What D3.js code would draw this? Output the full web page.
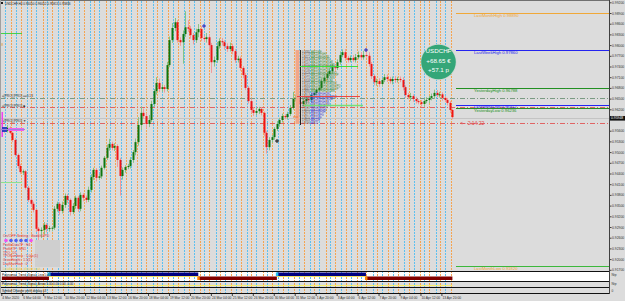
<!DOCTYPE html>
<html>
<head>
<meta charset="utf-8">
<script src="https://cdn.jsdelivr.net/npm/d3@7"></script>
<style>
  html, body { margin: 0; padding: 0; background: #dcdcdc; }
  svg { display: block; font-family: "Liberation Sans", Arial, sans-serif; }
</style>
</head>
<body>
<svg id="chart" width="625" height="301"></svg>
<script>
// ---- data ----
const firstOpen = 0.9565;
const closes = [
  0.9562, 0.9560, 0.9568, 0.9554, 0.9534, 0.9492, 0.9461, 0.9444, 0.9446, 0.9400,
  0.9366, 0.9355, 0.9338, 0.9285, 0.9279, 0.9282, 0.9296, 0.9285, 0.9287, 0.9288,
  0.9341, 0.9355, 0.9335, 0.9352, 0.9377, 0.9366, 0.9332, 0.9349, 0.9372, 0.9341,
  0.9380, 0.9372, 0.9366, 0.9394, 0.9430, 0.9450, 0.9428, 0.9432, 0.9456, 0.9484,
  0.9512, 0.9523, 0.9512, 0.9517, 0.9478, 0.9433, 0.9450, 0.9458, 0.9461, 0.9478,
  0.9500, 0.9528, 0.9576, 0.9610, 0.9601, 0.9579, 0.9590, 0.9635, 0.9671, 0.9694,
  0.9677, 0.9682, 0.9677, 0.9744, 0.9814, 0.9848, 0.9864, 0.9814, 0.9808, 0.9831,
  0.9850, 0.9846, 0.9828, 0.9814, 0.9836, 0.9845, 0.9820, 0.9817, 0.9822, 0.9800,
  0.9752, 0.9758, 0.9797, 0.9811, 0.9808, 0.9797, 0.9789, 0.9797, 0.9783, 0.9758,
  0.9762, 0.9736, 0.9716, 0.9680, 0.9643, 0.9618, 0.9610, 0.9615, 0.9621, 0.9610,
  0.9554, 0.9514, 0.9534, 0.9542, 0.9565, 0.9579, 0.9590, 0.9601, 0.9598, 0.9607,
  0.9624, 0.9649, 0.9652, 0.9640, 0.9635, 0.9643, 0.9649, 0.9646, 0.9660, 0.9666,
  0.9674, 0.9680, 0.9699, 0.9708, 0.9719, 0.9727, 0.9738, 0.9736, 0.9752, 0.9772,
  0.9780, 0.9764, 0.9758, 0.9764, 0.9758, 0.9766, 0.9772, 0.9766, 0.9772, 0.9770,
  0.9747, 0.9713, 0.9696, 0.9699, 0.9691, 0.9702, 0.9710, 0.9705, 0.9699, 0.9705,
  0.9702, 0.9705, 0.9702, 0.9682, 0.9660, 0.9654, 0.9657, 0.9649, 0.9643, 0.9640,
  0.9635, 0.9643, 0.9646, 0.9652, 0.9657, 0.9666, 0.9660, 0.9662, 0.9652, 0.9646,
  0.9638, 0.9618, 0.9598
];
// wick lengths in pips above / below the body
const upperWick = [
  6, 5, 8, 4, 3, 5, 4, 6, 5, 4,   5, 4, 6, 3, 5, 7, 8, 5, 6, 4,
  8, 6, 5, 9, 7, 6, 4, 8, 6, 5,   7, 5, 6, 9, 8, 6, 5, 7, 6, 5,
  9, 14, 6, 8, 5, 6, 7, 5, 6, 8,  6, 10, 22, 18, 12, 8, 14, 9, 6, 16,
  12, 8, 6, 9, 10, 14, 12, 6, 8, 10,  45, 20, 8, 6, 10, 14, 8, 6, 12, 8,
  6, 10, 12, 8, 9, 6, 8, 10, 7, 6,   8, 6, 5, 6, 5, 7, 8, 9, 6, 5,
  4, 6, 8, 6, 5, 8, 6, 7, 5, 6,   8, 20, 9, 6, 8, 7, 6, 5, 7, 6,
  5, 6, 8, 7, 6, 8, 9, 6, 8, 10,  8, 9, 6, 7, 8, 9, 10, 8, 12, 14,
  10, 6, 5, 7, 8, 6, 9, 8, 6, 7,  8, 6, 7, 8, 5, 6, 9, 5, 6, 5,
  6, 7, 8, 6, 7, 9, 8, 7, 6, 5,   6, 5, 4
];
const lowerWick = [
  5, 6, 5, 4, 6, 5, 7, 6, 8, 5,   6, 8, 7, 9, 32, 20, 12, 10, 8, 9,
  6, 8, 12, 7, 8, 9, 10, 6, 8, 9,  7, 10, 8, 6, 7, 8, 10, 6, 7, 5,
  6, 8, 7, 9, 20, 55, 10, 8, 6, 7,  8, 9, 10, 14, 8, 12, 9, 6, 8, 10,
  9, 8, 10, 7, 6, 8, 9, 7, 10, 60,  8, 9, 10, 12, 8, 14, 9, 8, 10, 12,
  30, 12, 8, 7, 9, 10, 8, 7, 9, 8,  7, 8, 9, 6, 7, 8, 9, 6, 8, 7,
  10, 18, 9, 8, 7, 6, 8, 7, 6, 7,  6, 5, 7, 8, 6, 7, 8, 6, 7, 8,
  6, 5, 7, 8, 6, 5, 7, 8, 6, 7,   6, 8, 7, 6, 5, 7, 6, 8, 7, 5,
  7, 8, 9, 10, 8, 7, 6, 8, 7, 9,  8, 7, 6, 9, 8, 6, 10, 8, 7, 6,
  7, 8, 6, 9, 7, 8, 6, 7, 8, 6,   7, 8, 6
];
const dayStarts = [1, 7, 13, 19, 25, 31, 37, 43, 49, 55, 61, 67, 73, 79, 85, 91, 97,
  103, 109, 115, 121, 127, 133, 139, 145, 151, 157, 163, 169];
const sessionOffsets = [0.2, 2.6, 4.3];   // candles after midnight where session lines sit
const timeLabels = ["4 Mar 2020", "6 Mar 04:00", "9 Mar 12:00", "10 Mar 20:00", "12 Mar 04:00",
  "13 Mar 12:00", "16 Mar 20:00", "18 Mar 04:00", "19 Mar 12:00", "20 Mar 20:00", "24 Mar 04:00",
  "25 Mar 12:00", "26 Mar 20:00", "30 Mar 04:00", "31 Mar 12:00", "1 Apr 20:00", "3 Apr 04:00",
  "6 Apr 12:00", "7 Apr 20:00", "9 Apr 04:00", "10 Apr 12:00", "13 Apr 20:00"];
const priceTicks = [0.992, 0.989, 0.986, 0.983, 0.980, 0.977, 0.974, 0.971, 0.968, 0.965,
  0.962, 0.959, 0.956, 0.953, 0.950, 0.947, 0.944, 0.941, 0.938, 0.935, 0.932, 0.929,
  0.926, 0.923, 0.920, 0.917];
const levelNames = ["LastMonthHigh", "LastWeekHigh", "YesterdayHigh", "LastWeekLow", "YesterdayLow", "LastMonthLow"];
const levelValues = [0.98890, 0.97860, 0.96788, 0.96312, 0.96236, 0.91820];
const proLines = [0.96530, 0.96256, 0.95808];
const bidPrice = 0.95948;
const symbolName = "USDCHF";
const profitMoney = "+68.65 €";
const profitPips = "+57.1 p";
const trendUp = [[18, 75], [105, 139]];      // candle ranges of the upper (blue) state
const trendDown = [[0, 18], [75, 105], [139, 172]];
const profileCounts = [6, 9, 11, 12, 13, 14, 14, 12, 15, 16, 14, 13, 15, 17, 16, 14, 12, 15,
  13, 11, 12, 10, 9, 8, 7, 6, 5, 4];
const settingsRows = ["ProfileDataTF   :  H4", "ProfileTF        :  MN1", "TPO              :  D1",
  "TPONumbers      :  5.0pc(1)", "GrowHeight       :  1.5(1)", "DayStartHour     :  0"];

// ---- layout ----
const svg = d3.select("#chart");
const plotR = 609.5;
const x = d3.scaleLinear().domain([0, 172]).range([1.8, 452.4]);
const y = d3.scaleLinear().domain([0.992, 0.917]).range([2.3, 269.8]);
const pip = 0.0001;

svg.append("rect").attr("width", 625).attr("height", 301).attr("fill", "#dcdcdc");

// lower panel backgrounds
svg.append("rect").attr("x", 0).attr("y", 272).attr("width", plotR).attr("height", 9).attr("fill", "#ffffff");

// vertical session lines
const vl = svg.append("g");
const sessColors = ["#5cc0f0", "#f5a450"];
dayStarts.forEach((d, k) => {
  sessionOffsets.forEach((off, j) => {
    const xx = Math.round(x(d + off)) + 0.5;
    if (xx > 455) return;
    vl.append("line").attr("x1", xx).attr("x2", xx).attr("y1", 1).attr("y2", 293)
      .attr("stroke", sessColors[(j + k) % 2]).attr("stroke-width", 1).attr("stroke-dasharray", "2,1");
  });
});

// full-width indicator lines
const proColors = ["#7a9a82", "#e06464", "#e06464"];
proLines.forEach((p, i) => {
  svg.append("line").attr("x1", 0).attr("x2", plotR).attr("y1", Math.round(y(p)) + 0.5).attr("y2", Math.round(y(p)) + 0.5)
    .attr("stroke", proColors[i]).attr("stroke-dasharray", "5,2,1,2");
});
svg.append("line").attr("x1", 0).attr("x2", plotR).attr("y1", Math.round(y(bidPrice)) + 0.5).attr("y2", Math.round(y(bidPrice)) + 0.5)
  .attr("stroke", "#c4c4c4");

// candles
const candles = closes.map((c, i) => {
  const o = i ? closes[i - 1] : firstOpen;
  return { i, o, c, h: Math.max(o, c) + upperWick[i] * pip, l: Math.min(o, c) - lowerWick[i] * pip };
});
const cg = svg.append("g");
cg.selectAll("line").data(candles).join("line")
  .attr("x1", (d) => Math.round(x(d.i)) + 0.5).attr("x2", (d) => Math.round(x(d.i)) + 0.5)
  .attr("y1", (d) => y(d.h)).attr("y2", (d) => y(d.l))
  .attr("stroke", (d) => (d.c >= d.o ? "#86c486" : "#f29a9a"));
cg.selectAll("rect").data(candles).join("rect")
  .attr("x", (d) => Math.round(x(d.i)) - 0.5).attr("width", 2)
  .attr("y", (d) => y(Math.max(d.o, d.c))).attr("height", (d) => Math.max(1, Math.abs(y(d.o) - y(d.c))))
  .attr("fill", (d) => (d.c >= d.o ? "#0e760e" : "#f01414"));

// market profile block
const pg = svg.append("g");
pg.append("rect").attr("x", 295.5).attr("y", 50).attr("width", 4).attr("height", 74).attr("fill", "#f2a688");
pg.append("rect").attr("x", 300).attr("y", 50).attr("width", 1).attr("height", 75).attr("fill", "#202020");
profileCounts.forEach((n, k) => {
  const yy = 52.5 + k * 2.65;
  pg.append("text").attr("x", 302).attr("y", yy).attr("font-size", 2.6).attr("fill", "#505050")
    .text((0.9785 - k * 0.0007).toFixed(4));
  pg.append("text").attr("x", 311).attr("y", yy).attr("font-size", 2.6).attr("fill", k > 15 ? "#3030d0" : "#3a8a3a")
    .text("ABCDEFGHIJKLMNOPQ".slice(0, n));
});
pg.append("line").attr("x1", 300).attr("x2", 358).attr("y1", 66.5).attr("y2", 66.5).attr("stroke", "#3ee03e");
pg.append("line").attr("x1", 297).attr("x2", 360).attr("y1", 96.5).attr("y2", 96.5).attr("stroke", "#e84848");
pg.append("line").attr("x1", 304).attr("x2", 363).attr("y1", 105.5).attr("y2", 105.5).attr("stroke", "#78e078").attr("stroke-width", 1.5);
pg.append("line").attr("x1", 293).attr("x2", 298).attr("y1", 117).attr("y2", 117).attr("stroke", "#f08040");

// key level lines (right side)
const levelColors = ["#f0a838", "#2424f0", "#229022", "#2424f0", "#229022", "#3cb83c"];
const levelText = ["#f0a838", "#2424f0", "#229022", "#2424f0", "#229022", "#f0a838"];
const levelDy = [3.5, 3.5, 3.5, 2.2, 3.5, 3.5];
levelValues.forEach((v, i) => {
  const yy = Math.round(y(v)) + 0.5;
  svg.append("line").attr("x1", 456).attr("x2", plotR).attr("y1", yy).attr("y2", yy)
    .attr("stroke", levelColors[i]).attr("stroke-width", 1);
  svg.append("text").attr("x", 474).attr("y", yy + levelDy[i]).attr("font-size", 4.2)
    .attr("fill", levelText[i]).text(levelNames[i] + "  " + v.toFixed(5));
});
svg.append("text").attr("x", 460).attr("y", y(proLines[2]) + 1.5).attr("font-size", 5)
  .attr("fill", "#e04040").text("<-- 2:14:22");

// profit circle
svg.append("circle").attr("cx", 438.5).attr("cy", 62).attr("r", 18).attr("fill", "#c8d8d0");
svg.append("circle").attr("cx", 438.5).attr("cy", 62).attr("r", 17.3).attr("fill", "#34a678");
[[symbolName, 52.5], [profitMoney, 62.5], [profitPips, 72]].forEach(([t, yy]) => {
  svg.append("text").attr("x", 438.5).attr("y", yy).attr("text-anchor", "middle").attr("font-size", 6.2)
    .attr("fill", "#ffffff").text(t);
});

// markers
[[204, 26, "#2020c0"], [366, 50, "#2020c0"], [277, 141, "#101010"], [50, 245, "#101010"]].forEach(([mx, my, c]) => {
  svg.append("path").attr("d", `M${mx - 2},${my}H${mx + 2}M${mx},${my - 2}V${my + 2}`).attr("stroke", c).attr("stroke-width", 1);
});

// left side objects
svg.append("line").attr("x1", 1).attr("x2", 22).attr("y1", 33.5).attr("y2", 33.5).attr("stroke", "#4ad04a");
svg.append("line").attr("x1", 1).attr("x2", 22).attr("y1", 182.5).attr("y2", 182.5).attr("stroke", "#8ee08e");
svg.append("text").attr("x", 1).attr("y", 46).attr("font-size", 4).attr("fill", "#e0a030").text("8");
[["=[PRO] [PRO] ==0.13", 97], ["=[PRO] [PRO] \u25c6", 107], ["=[PRO] [PRO] \u25bc", 121.5]].forEach(([t, yy]) => {
  svg.append("text").attr("x", 2).attr("y", yy).attr("font-size", 3.2).attr("fill", "#303030").text(t);
});
svg.append("rect").attr("x", 1.5).attr("y", 112).attr("width", 1.5).attr("height", 25).attr("fill", "#f040f0");
svg.append("rect").attr("x", 2).attr("y", 127).attr("width", 5).attr("height", 5).attr("fill", "#3040c0");
svg.append("rect").attr("x", 8).attr("y", 128).attr("width", 16).attr("height", 3).attr("fill", "#f060f0");
svg.append("line").attr("x1", 0).attr("x2", 25).attr("y1", 129.5).attr("y2", 129.5).attr("stroke", "#a080e0");

// settings panel
const sp = svg.append("g");
sp.append("rect").attr("x", 35).attr("y", 240).attr("width", 25).attr("height", 27).attr("fill", "#cfcfcf");
sp.append("text").attr("x", 3).attr("y", 237).attr("font-size", 3.6).attr("fill", "#e03030").text("On/OFF Setting :  SwitchUPD");
["#f050f0", "#5060f0", "#5060f0", "#5060f0", "#5060f0", "#f050f0"].forEach((c, k) => {
  sp.append("circle").attr("cx", 6 + k * 5).attr("cy", 240.5).attr("r", 1.8).attr("fill", c);
});
settingsRows.forEach((t, k) => {
  sp.append("text").attr("x", 3).attr("y", 246 + k * 3.8).attr("font-size", 3.3).attr("fill", "#e03030").text(t);
});
sp.append("text").attr("x", 3).attr("y", 269.5).attr("font-size", 3.3).attr("fill", "#e8d040").text("Loading data, please wait...");

// header
svg.append("rect").attr("x", 1).attr("y", 2).attr("width", 2).attr("height", 2).attr("fill", "#202020");
svg.append("text").attr("x", 5).attr("y", 5).attr("font-size", 3.1).attr("fill", "#202020")
  .text("USDCHF,H4  0.96050 0.96052 0.95813 0.95836");

// lower panels
const bp = svg.append("g");
trendUp.forEach(([a, b]) => {
  bp.append("rect").attr("x", x(a)).attr("y", 272.5).attr("width", x(b) - x(a)).attr("height", 3.5).attr("fill", "#000080");
  bp.append("rect").attr("x", x(a) - 1).attr("y", 272.5).attr("width", 2.5).attr("height", 3.5).attr("fill", "#20c0f0");
  bp.append("line").attr("x1", x(a)).attr("x2", x(b)).attr("y1", 276.5).attr("y2", 276.5).attr("stroke", "#f0e060");
});
trendDown.forEach(([a, b]) => {
  bp.append("rect").attr("x", x(a)).attr("y", 276.5).attr("width", x(b) - x(a)).attr("height", 3.5).attr("fill", "#800000");
  if (a > 0) bp.append("rect").attr("x", x(a) - 1).attr("y", 276.5).attr("width", 2.5).attr("height", 3.5).attr("fill", "#ff8000");
});
bp.append("text").attr("x", 2).attr("y", 276).attr("font-size", 3).attr("fill", "#202020").text("Polynomial_Trend_Signal_Line 5.00");
bp.append("line").attr("x1", 0).attr("x2", x(172)).attr("y1", 285.5).attr("y2", 285.5).attr("stroke", "#f8f070");
bp.append("text").attr("x", 2).attr("y", 284.5).attr("font-size", 3).attr("fill", "#202020").text("Polynomial_Trend_Signal_Arrow 5.00 0.00 0.00 -0.00");
bp.append("text").attr("x", 2).attr("y", 291.5).attr("font-size", 3).attr("fill", "#202020").text("Symbol Changer prefs display =3");
[271.5, 281.5, 287.5, 293.5].forEach((yy) => {
  bp.append("line").attr("x1", 0).attr("x2", plotR).attr("y1", yy).attr("y2", yy).attr("stroke", "#101010");
});

// frame
svg.append("line").attr("x1", 0).attr("x2", plotR).attr("y1", 0.5).attr("y2", 0.5).attr("stroke", "#707070");
svg.append("line").attr("x1", 0.5).attr("x2", 0.5).attr("y1", 0).attr("y2", 294).attr("stroke", "#a0a0a0");
svg.append("line").attr("x1", plotR).attr("x2", plotR).attr("y1", 0).attr("y2", 294).attr("stroke", "#404040");

// price axis (the tick hidden under the bid box is skipped)
const visibleTicks = priceTicks.filter((t) => Math.abs(y(t) - y(bidPrice)) > 4);
const ya = svg.append("g").attr("transform", `translate(${plotR},0)`)
  .call(d3.axisRight(y).tickValues(visibleTicks).tickSize(2).tickFormat((d) => d.toFixed(5)));
ya.select(".domain").remove();
ya.selectAll("line").attr("stroke", "#404040");
ya.selectAll("text").attr("font-size", 3.4).attr("fill", "#303030").attr("x", 2.5).attr("font-family", "Liberation Sans, Arial");
svg.append("rect").attr("x", plotR + 0.5).attr("y", y(bidPrice) - 2.3).attr("width", 15).attr("height", 4.6).attr("fill", "#101010");
svg.append("text").attr("x", plotR + 1.5).attr("y", y(bidPrice) + 1.2).attr("font-size", 3.4).attr("fill", "#ffffff").text(bidPrice.toFixed(5));
[["Ntp", 276], ["Ntp", 285], ["0", 292]].forEach(([t, yy]) => {
  svg.append("text").attr("x", plotR + 2).attr("y", yy).attr("font-size", 3.2).attr("fill", "#303030").text(t);
});

// time axis
timeLabels.forEach((t, k) => {
  const xx = x(k * 8);
  svg.append("line").attr("x1", xx).attr("x2", xx).attr("y1", 294).attr("y2", 296).attr("stroke", "#404040");
  svg.append("text").attr("x", xx + 0.5).attr("y", 299).attr("font-size", 3.3).attr("fill", "#303030").text(t);
});
</script>
</body>
</html>
